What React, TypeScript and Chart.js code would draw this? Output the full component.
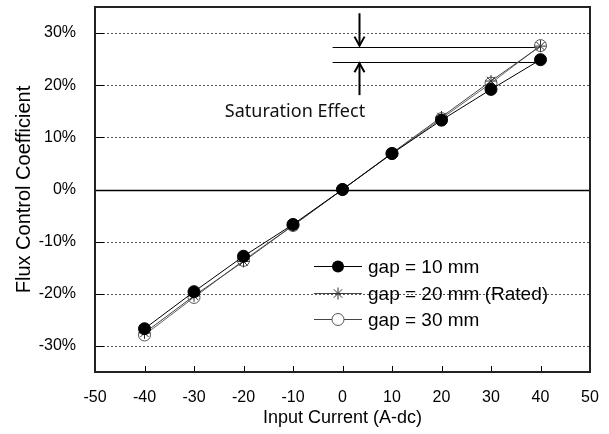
import React, { useEffect, useRef } from "react";
import { Chart, registerables } from "chart.js";

Chart.register(...registerables);

// ---------- data ----------
const currents = [-40, -30, -20, -10, 0, 10, 20, 30, 40];
const gap10 = [-26.7, -19.6, -12.8, -6.7, 0, 6.9, 13.3, 19.2, 24.9];
const gap20 = [-27.5, -20.4, -13.8, -6.9, 0, 7.0, 13.9, 20.8, 27.5];
const gap30 = [-27.9, -20.7, -13.6, -6.9, 0, 6.9, 13.6, 20.4, 27.6];
const seriesLabels = ["gap = 10 mm", "gap = 20 mm (Rated)", "gap = 30 mm"];
const xTicks = [-50, -40, -30, -20, -10, 0, 10, 20, 30, 40, 50];
const yTicks = [-30, -20, -10, 0, 10, 20, 30];
const xTitle = "Input Current (A-dc)";
const yTitle = "Flux Control Coefficient";
const noteText = "Saturation Effect";
// saturation markers (data coordinates)
const satLevels = [27.4, 24.4];
const satRange = [-2, 40];
const arrowX = 3.3;
const arrowEnds = [33.8, 18.1];
const notePos = { x: -9.6, y: 14.8 };

const FONT = "'Liberation Sans', Arial, sans-serif";

function drawMarker(ctx: CanvasRenderingContext2D, i: number, x: number, y: number) {
  ctx.save();
  ctx.setLineDash([]);
  if (i === 0) {
    ctx.fillStyle = "#000";
    ctx.beginPath();
    ctx.arc(x, y, 6, 0, Math.PI * 2);
    ctx.fill();
  } else if (i === 1) {
    ctx.strokeStyle = "#333";
    ctx.lineWidth = 1;
    const r = 6;
    ctx.beginPath();
    ctx.moveTo(x, y - r); ctx.lineTo(x, y + r);
    ctx.moveTo(x - r, y); ctx.lineTo(x + r, y);
    const d = r * 0.7071;
    ctx.moveTo(x - d, y - d); ctx.lineTo(x + d, y + d);
    ctx.moveTo(x - d, y + d); ctx.lineTo(x + d, y - d);
    ctx.stroke();
  } else {
    ctx.strokeStyle = "#555";
    ctx.fillStyle = "#fff";
    ctx.lineWidth = 1;
    ctx.beginPath();
    ctx.arc(x, y, 6, 0, Math.PI * 2);
    ctx.fill();
    ctx.stroke();
  }
  ctx.restore();
}

const framePlugin = {
  id: "frame",
  beforeDatasetsDraw(chart: any) {
    const { ctx, chartArea: a, scales } = chart;
    const x = scales.x;
    const y = scales.y;
    ctx.save();
    yTicks.forEach((v) => {
      const py = Math.round(y.getPixelForValue(v)) + 0.5;
      ctx.beginPath();
      if (v === 0) {
        ctx.setLineDash([]);
        ctx.strokeStyle = "#000";
        ctx.lineWidth = 1.3;
      } else {
        ctx.setLineDash([2, 2]);
        ctx.strokeStyle = "#555";
        ctx.lineWidth = 1;
      }
      ctx.moveTo(a.left, py);
      ctx.lineTo(a.right, py);
      ctx.stroke();
      ctx.setLineDash([]);
      ctx.strokeStyle = "#000";
      ctx.lineWidth = 1;
      ctx.beginPath();
      ctx.moveTo(a.left, py);
      ctx.lineTo(a.left + 9, py);
      ctx.stroke();
    });
    xTicks.forEach((v) => {
      const px = Math.round(x.getPixelForValue(v)) + 0.5;
      ctx.strokeStyle = "#000";
      ctx.lineWidth = 1;
      ctx.beginPath();
      ctx.moveTo(px, a.bottom);
      ctx.lineTo(px, a.bottom - 6);
      ctx.stroke();
    });
    // frame
    ctx.strokeStyle = "#222";
    ctx.lineWidth = 2;
    ctx.strokeRect(a.left, a.top, a.right - a.left, a.bottom - a.top);

    // saturation annotation
    ctx.strokeStyle = "#000";
    ctx.lineWidth = 1;
    satLevels.forEach((lv) => {
      const py = Math.round(y.getPixelForValue(lv)) + 0.5;
      ctx.beginPath();
      ctx.moveTo(x.getPixelForValue(satRange[0]), py);
      ctx.lineTo(x.getPixelForValue(satRange[1]), py);
      ctx.stroke();
    });
    const ax = Math.round(x.getPixelForValue(arrowX)) + 0.5;
    ctx.lineWidth = 2;
    const drawArrow = (from: number, to: number) => {
      const fy = y.getPixelForValue(from);
      const ty = y.getPixelForValue(to);
      const dir = ty > fy ? 1 : -1;
      ctx.beginPath();
      ctx.moveTo(ax, fy);
      ctx.lineTo(ax, ty - dir * 1);
      ctx.stroke();
      ctx.beginPath();
      ctx.moveTo(ax - 5, ty - dir * 10);
      ctx.lineTo(ax, ty - dir * 1);
      ctx.lineTo(ax + 5, ty - dir * 10);
      ctx.stroke();
    };
    drawArrow(arrowEnds[0], satLevels[0]);
    drawArrow(arrowEnds[1], satLevels[1]);
    ctx.fillStyle = "#111";
    ctx.font = "18px 'Noto Sans', 'DejaVu Sans', sans-serif";
    ctx.textAlign = "center";
    ctx.textBaseline = "middle";
    ctx.fillText(noteText, x.getPixelForValue(notePos.x), y.getPixelForValue(notePos.y));
    ctx.restore();
  },
  afterDatasetsDraw(chart: any) {
    const { ctx, chartArea: a } = chart;
    ctx.save();
    const lx = a.left + 219;
    const ly = a.top + 259;
    seriesLabels.forEach((label, i) => {
      const ry = Math.round(ly + i * 26.5) + 0.5;
      ctx.strokeStyle = i === 0 ? "#000" : "#444";
      ctx.lineWidth = 1;
      ctx.beginPath();
      ctx.moveTo(lx, ry);
      ctx.lineTo(lx + 48, ry);
      ctx.stroke();
      drawMarker(ctx, i, lx + 24, ry);
      ctx.fillStyle = "#000";
      ctx.font = "19px " + FONT;
      ctx.textAlign = "left";
      ctx.textBaseline = "middle";
      ctx.fillText(label, lx + 54, ry + 1);
    });
    ctx.restore();
  },
};

export default function App() {
  const ref = useRef<HTMLCanvasElement | null>(null);
  useEffect(() => {
    document.body.style.margin = "0";
    const canvas = ref.current;
    if (!canvas) return;
    const mk = (vals: number[]) => currents.map((c, i) => ({ x: c, y: vals[i] }));
    const chart = new Chart(canvas, {
      type: "line",
      data: {
        datasets: [
          {
            label: seriesLabels[0],
            data: mk(gap10),
            borderColor: "#000",
            borderWidth: 1,
            pointStyle: "circle",
            pointRadius: 6,
            pointBackgroundColor: "#000",
            pointBorderColor: "#000",
            pointBorderWidth: 1,
          },
          {
            label: seriesLabels[1],
            data: mk(gap20),
            borderColor: "#444",
            borderWidth: 1,
            pointStyle: "star",
            pointRadius: 6,
            pointBackgroundColor: "#333",
            pointBorderColor: "#333",
            pointBorderWidth: 1,
          },
          {
            label: seriesLabels[2],
            data: mk(gap30),
            borderColor: "#666",
            borderWidth: 1,
            pointStyle: "circle",
            pointRadius: 6,
            pointBackgroundColor: "rgba(255,255,255,0.4)",
            pointBorderColor: "#555",
            pointBorderWidth: 1,
          },
        ],
      },
      options: {
        responsive: false,
        animation: false,
        layout: { padding: { top: 7, right: 19, left: 0, bottom: 0 } },
        plugins: { legend: { display: false }, tooltip: { enabled: false } },
        scales: {
          x: {
            type: "linear",
            min: -50,
            max: 50,
            grid: { display: false },
            border: { display: false },
            afterBuildTicks: (s: any) => {
              s.ticks = xTicks.map((v) => ({ value: v }));
            },
            afterFit: (s: any) => {
              s.height = 62;
            },
            ticks: {
              color: "#000",
              padding: 8,
              font: { family: FONT, size: 16 },
              callback: (v: any) => String(v),
            },
            title: {
              display: true,
              text: xTitle,
              color: "#000",
              font: { family: FONT, size: 18 },
              padding: { top: 0, bottom: 5 },
            },
          },
          y: {
            type: "linear",
            min: -35,
            max: 35,
            grid: { display: false },
            border: { display: false },
            afterBuildTicks: (s: any) => {
              s.ticks = yTicks.map((v) => ({ value: v }));
            },
            afterFit: (s: any) => {
              s.width = 95;
              s.paddingTop = 0;
              s.paddingBottom = 0;
            },
            ticks: {
              color: "#000",
              padding: 11,
              font: { family: FONT, size: 16 },
              callback: (v: any) => v + "%",
            },
            title: {
              display: true,
              text: yTitle,
              color: "#000",
              font: { family: FONT, size: 20 },
              padding: { top: 12, bottom: 0 },
            },
          },
        },
      },
      plugins: [framePlugin],
    } as any);
    return () => chart.destroy();
  }, []);
  return <canvas ref={ref} width={609} height={434} style={{ display: "block" }} />;
}
